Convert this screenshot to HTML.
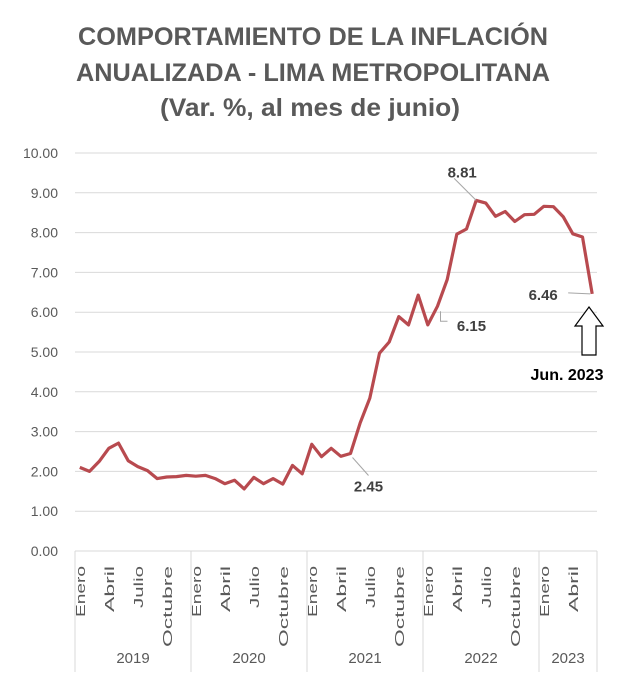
<!DOCTYPE html>
<html><head><meta charset="utf-8">
<style>
html,body{margin:0;padding:0;background:#fff;}
svg{display:block;font-family:"Liberation Sans",Arial,sans-serif;}
</style></head>
<body>
<svg id="chart" width="620" height="675" viewBox="0 0 620 675" xmlns="http://www.w3.org/2000/svg">
  <rect x="0" y="0" width="620" height="675" fill="#fff"/>
  <g fill="#595959" font-weight="bold" font-size="25" text-anchor="middle">
    <text x="313" y="45" textLength="470" lengthAdjust="spacingAndGlyphs">COMPORTAMIENTO DE LA INFLACIÓN</text>
    <text x="313" y="81" textLength="474" lengthAdjust="spacingAndGlyphs">ANUALIZADA - LIMA METROPOLITANA</text>
    <text x="310" y="116" textLength="300" lengthAdjust="spacingAndGlyphs">(Var. %, al mes de junio)</text>
  </g>
  <g id="grid"></g>
  <g id="yticks"></g>
  <g id="xaxis"></g>
  <path id="series" fill="none" stroke="#b84a4f" stroke-width="3.2" stroke-linejoin="round"/>
  <g id="annot"></g>
  <g>
    <path d="M589,307 L603,326 L596,326 L596,355 L582,355 L582,326 L575,326 Z" fill="#fff" stroke="#000" stroke-width="1.2"/>
    <text x="567" y="380" text-anchor="middle" font-size="16" font-weight="bold" fill="#000">Jun. 2023</text>
  </g>
</svg>
<script>
const years = ["2019","2020","2021","2022","2023"];
const monthLabels = ["Enero","","","Abril","","","Julio","","","Octubre","",""];
const yTicks = [0,1,2,3,4,5,6,7,8,9,10];
const values = [2.10,2.00,2.25,2.58,2.71,2.27,2.12,2.02,1.82,1.86,1.87,1.90,
  1.88,1.90,1.82,1.69,1.78,1.56,1.85,1.69,1.82,1.68,2.15,1.94,
  2.68,2.37,2.58,2.38,2.45,3.22,3.84,4.97,5.25,5.89,5.68,6.43,
  5.68,6.15,6.82,7.96,8.09,8.81,8.74,8.41,8.53,8.28,8.45,8.46,
  8.66,8.65,8.40,7.97,7.89,6.46];
const annotations = [
  {i:28, label:"2.45"},
  {i:37, label:"6.15"},
  {i:41, label:"8.81"},
  {i:53, label:"6.46"}
];
const NS="http://www.w3.org/2000/svg";
const X0=75, X1=597, Y0=551, Y1=153, YMAX=10;
const n=values.length;
const mw=(X1-X0)/n;
const labLen={"Enero":51,"Abril":46,"Julio":42,"Octubre":81};
function xPos(i){return X0+(i+0.5)*mw;}
function yPos(v){return Y0-(v/YMAX)*(Y0-Y1);}
function mk(tag,attrs,parent){const e=document.createElementNS(NS,tag);for(const k in attrs)e.setAttribute(k,attrs[k]);parent.appendChild(e);return e;}
const grid=document.getElementById('grid'), yt=document.getElementById('yticks'), xa=document.getElementById('xaxis'), an=document.getElementById('annot');
yTicks.forEach(t=>{
  const l=mk('line',{x1:X0,x2:X1,y1:yPos(t),y2:yPos(t),stroke:'#d9d9d9','stroke-width':1},grid);
  
  
  const tx=mk('text',{x:58,y:yPos(t)+5,'text-anchor':'end','font-size':14,fill:'#595959'},yt);
  tx.textContent=t.toFixed(2);
  
  
});
for(let i=0;i<=n;i+=12){
  const x=X0+Math.min(i,n)*mw;
  const l=mk('line',{x1:x,x2:x,y1:Y0,y2:672,stroke:'#d9d9d9','stroke-width':1},xa);
  
  
}
{const l=mk('line',{x1:X1,x2:X1,y1:Y0,y2:672,stroke:'#d9d9d9','stroke-width':1},xa);

}
for(let i=0;i<n;i++){
  const lab=monthLabels[i%12];
  if(!lab)continue;
  const x=xPos(i)+5;
  const t=mk('text',{x:0,y:0,transform:`translate(${x},566) rotate(-90)`,'text-anchor':'end','font-size':13,fill:'#595959',textLength:labLen[lab],lengthAdjust:'spacingAndGlyphs'},xa);
  t.textContent=lab;
  
  
}
years.forEach((yr,k)=>{
  const s=k*12, e=Math.min(n,s+12);
  const t=mk('text',{x:X0+(s+e)/2*mw,y:663,'text-anchor':'middle','font-size':15,fill:'#595959'},xa);
  t.textContent=yr;
  
  
});
document.getElementById('series').setAttribute('d',values.map((v,i)=>(i?'L':'M')+xPos(i).toFixed(1)+','+yPos(v).toFixed(1)).join(' '));
annotations.forEach(a=>{
  const px=xPos(a.i), py=yPos(values[a.i]);
  let tx,ty,path;
  if(a.label==="8.81"){tx=px-14;ty=py-23;path=`M${px},${py} L${px-22},${py-22}`;}
  else if(a.label==="6.15"){tx=px+34;ty=py+25;path=`M${px+3},${py+5} L${px+3},${py+15} L${px+10},${py+15}`;}
  else if(a.label==="6.46"){tx=px-49;ty=py+6;path=`M${px-2},${py} L${px-24},${py-1}`;}
  else {tx=px+18;ty=py+38;path=`M${px+2},${py+4} L${px+18},${py+22}`;}
  const p=mk('path',{d:path,fill:'none',stroke:'#a6a6a6','stroke-width':1},an);
  
  
  const t=mk('text',{x:tx,y:ty,'text-anchor':'middle','font-size':15,'font-weight':'bold',fill:'#404040'},an);
  t.textContent=a.label;
  
  
});
</script>
</body></html>
